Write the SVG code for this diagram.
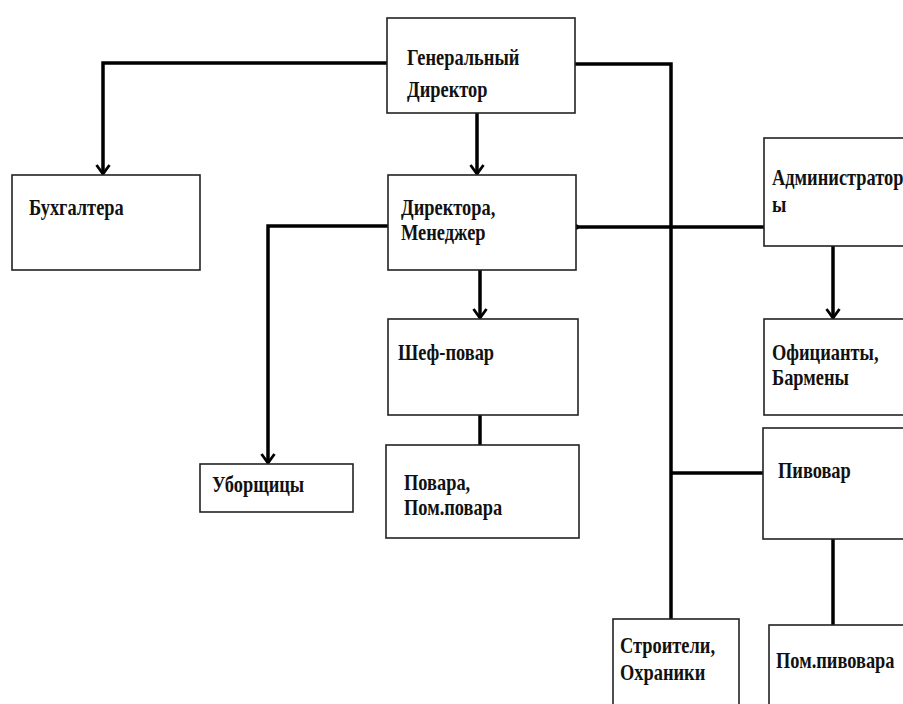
<svg xmlns="http://www.w3.org/2000/svg" width="903" height="704" viewBox="0 0 903 704">
<defs>
<style>
.box{fill:#fff;stroke:#222;stroke-width:1.6}
.t{font-family:"Liberation Serif","Times New Roman",serif;font-weight:bold;font-size:18.4px;fill:#111}
.c{fill:none;stroke:#000;stroke-width:3.5;stroke-linejoin:miter}
</style>
<marker id="arr" viewBox="0 0 16 16" refX="14" refY="8" markerWidth="16" markerHeight="16" markerUnits="userSpaceOnUse" orient="auto">
<path d="M5,1.5 L14,8 L5,14.5" fill="none" stroke="#000" stroke-width="2.8"/>
</marker>
</defs>
<rect width="903" height="704" fill="#fff"/>
<g id="connectors">
<path class="c" d="M387,63 H103 V174" marker-end="url(#arr)"/>
<path class="c" d="M477,113 V174" marker-end="url(#arr)"/>
<path class="c" d="M575,64 H671 V620"/>
<path class="c" d="M576,227 H764"/>
<circle cx="576" cy="227" r="2.8" fill="#000"/>
<path class="c" d="M389,226 H268 V463" marker-end="url(#arr)"/>
<path class="c" d="M480,270 V318" marker-end="url(#arr)"/>
<path class="c" d="M480,415 V445"/>
<path class="c" d="M833,246 V318" marker-end="url(#arr)"/>
<path class="c" d="M671,473 H763"/>
<path class="c" d="M833,539 V625"/>
</g>
<g id="gen-director">
<rect class="box" x="387" y="18" width="188" height="95"/>
<text class="t" transform="translate(407,65) scale(1,1.25)">Генеральный</text>
<text class="t" transform="translate(407,97) scale(1,1.25)">Директор</text>
</g>
<g id="buhgaltera">
<rect class="box" x="12" y="175" width="188" height="95"/>
<text class="t" transform="translate(29,215) scale(1,1.25)">Бухгалтера</text>
</g>
<g id="directora">
<rect class="box" x="388" y="175" width="188" height="95"/>
<text class="t" transform="translate(401,215) scale(1,1.25)">Директора,</text>
<text class="t" transform="translate(401,240) scale(1,1.25)">Менеджер</text>
</g>
<g id="administratory">
<rect class="box" x="764" y="138" width="150" height="108"/>
<text class="t" transform="translate(772,185) scale(1,1.25)">Администратор</text>
<text class="t" transform="translate(772,212) scale(1,1.25)">ы</text>
</g>
<g id="shef-povar">
<rect class="box" x="388" y="319" width="190" height="96"/>
<text class="t" transform="translate(398,360) scale(1,1.25)">Шеф-повар</text>
</g>
<g id="oficianty">
<rect class="box" x="764" y="319" width="150" height="96"/>
<text class="t" transform="translate(772,360) scale(1,1.25)">Официанты,</text>
<text class="t" transform="translate(772,385) scale(1,1.25)">Бармены</text>
</g>
<g id="uborshchicy">
<rect class="box" x="200" y="464" width="153" height="48"/>
<text class="t" transform="translate(212,492) scale(1,1.25)">Уборщицы</text>
</g>
<g id="povara">
<rect class="box" x="386" y="445" width="193" height="93"/>
<text class="t" transform="translate(404,490) scale(1,1.25)">Повара,</text>
<text class="t" transform="translate(404,515) scale(1,1.25)">Пом.повара</text>
</g>
<g id="pivovar">
<rect class="box" x="763" y="428" width="150" height="111"/>
<text class="t" transform="translate(778,478) scale(1,1.25)">Пивовар</text>
</g>
<g id="stroiteli">
<rect class="box" x="613" y="619" width="126" height="95"/>
<text class="t" transform="translate(620,653) scale(1,1.25)">Строители,</text>
<text class="t" transform="translate(620,680) scale(1,1.25)">Охраники</text>
</g>
<g id="pom-pivovara">
<rect class="box" x="769" y="625" width="145" height="90"/>
<text class="t" transform="translate(776,668) scale(1,1.25)">Пом.пивовара</text>
</g>
</svg>
